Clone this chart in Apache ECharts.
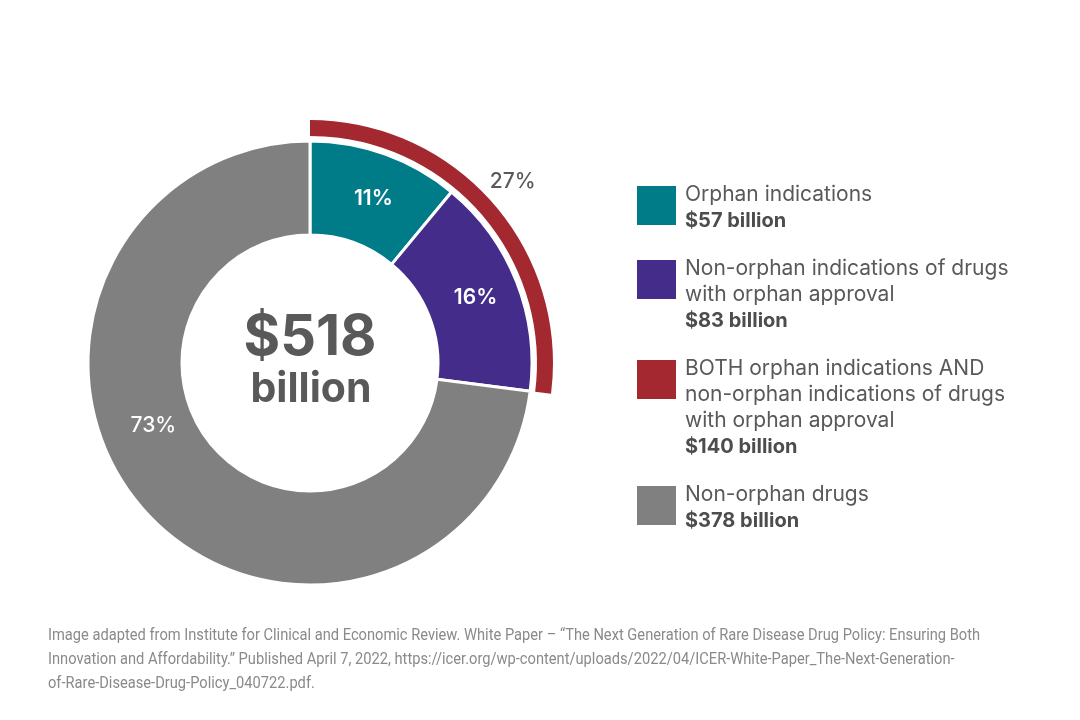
<!DOCTYPE html>
<html>
<head>
<meta charset="utf-8">
<script src="https://cdn.jsdelivr.net/npm/echarts@6/dist/echarts.min.js"></script>
<style>html,body{margin:0;padding:0;background:#fff;}#c{width:1080px;height:720px;}</style>
</head>
<body>
<div id="c"></div>
<script>
// ---- data ----
const categories = ['Orphan indications', 'Non-orphan indications of drugs with orphan approval', 'Non-orphan drugs'];
const values = [57, 83, 378];
const combinedName = 'BOTH orphan indications AND non-orphan indications of drugs with orphan approval';
const combinedValue = 140;
const legendLines = [
  ['Orphan indications'],
  ['Non-orphan indications of drugs', 'with orphan approval'],
  ['BOTH orphan indications AND', 'non-orphan indications of drugs', 'with orphan approval'],
  ['Non-orphan drugs']
];
const legendValues = [57, 83, 140, 378];
const sourceLines = [
  'Image adapted from Institute for Clinical and Economic Review. White Paper \u2013 \u201cThe Next Generation of Rare Disease Drug Policy: Ensuring Both',
  'Innovation and Affordability.\u201d Published April 7, 2022, https://icer.org/wp-content/uploads/2022/04/ICER-White-Paper_The-Next-Generation-',
  'of-Rare-Disease-Drug-Policy_040722.pdf.'
];

// ---- style ----
const colors = ['#007C89', '#432C8A', '#808080'];
const redColor = '#A3282F';
const legendColors = ['#007C89', '#432C8A', '#A3282F', '#808080'];
const textColor = '#595959';
const FONT = 'Inter, Lato, sans-serif';

const total = values.reduce((a, b) => a + b, 0);
const cx = 310, cy = 363;

const chart = echarts.init(document.getElementById('c'), null, { renderer: 'canvas' });

const graphic = [];
// center total
graphic.push({
  type: 'text', z: 10,
  style: { text: '$' + total, x: cx, y: 338, textAlign: 'center', textVerticalAlign: 'middle',
    font: 'bold 56px ' + FONT, fill: textColor }
});
graphic.push({
  type: 'text', z: 10,
  style: { text: 'billion', x: cx + 1, y: 390, textAlign: 'center', textVerticalAlign: 'middle',
    font: 'bold 41px ' + FONT, fill: textColor }
});
// legend
let groupTop = 186;
legendLines.forEach((lines, i) => {
  graphic.push({ type: 'rect', shape: { x: 637, y: groupTop, width: 39, height: 39 }, style: { fill: legendColors[i] } });
  lines.forEach((ln, k) => {
    graphic.push({ type: 'text', style: { text: ln, x: 685, y: groupTop + 9 + k * 26, textVerticalAlign: 'middle',
      font: '21px ' + FONT, fill: textColor } });
  });
  graphic.push({ type: 'text', style: { text: '$' + legendValues[i] + ' billion', x: 685, y: groupTop + 9 + lines.length * 26,
    textVerticalAlign: 'middle', font: 'bold 20px ' + FONT, fill: '#4d4d4d' } });
  groupTop += (lines.length + 1) * 26 + 22;
});
// source
sourceLines.forEach((ln, k) => {
  graphic.push({ type: 'text', x: 48, y: 636 + k * 24, scaleX: 0.917,
    style: { text: ln, x: 0, y: 0, textVerticalAlign: 'middle',
      font: '16px Roboto, sans-serif', fill: '#8a8a8a' } });
});

const labelBase = { show: true, position: 'inside', formatter: '{d}%', color: '#fff',
  fontFamily: FONT, fontWeight: 600, fontSize: 21 };

chart.setOption({
  animation: false,
  graphic: graphic,
  series: [
    {
      type: 'pie', center: [cx, cy], radius: [128, 222], startAngle: 90, clockwise: true,
      percentPrecision: 0, silent: true,
      itemStyle: { borderColor: '#fff', borderWidth: 3 },
      label: labelBase, labelLine: { show: false },
      data: categories.map((c, i) => ({
        name: c, value: values[i], itemStyle: { color: colors[i] },
        label: i === 0 ? { offset: [3, 3] } : (i === 2 ? { offset: [-23, -55], fontWeight: 500 } : {})
      }))
    },
    {
      type: 'pie', center: [cx, cy], radius: [227, 243], startAngle: 90, clockwise: true,
      percentPrecision: 0, silent: true,
      label: { show: false }, labelLine: { show: false },
      data: [
        { name: combinedName, value: combinedValue, itemStyle: { color: redColor },
          label: Object.assign({}, labelBase, { color: textColor, fontWeight: 500, offset: [24, -24] }) },
        { name: 'rest', value: total - combinedValue, itemStyle: { color: 'rgba(0,0,0,0)' }, label: { show: false } }
      ]
    }
  ]
});
</script>
</body>
</html>
